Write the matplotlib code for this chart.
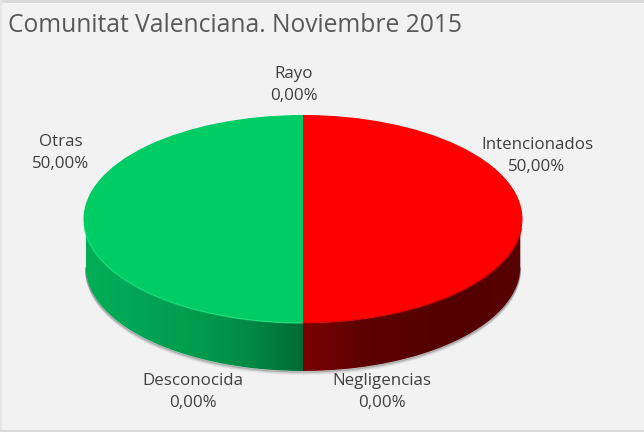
import numpy as np
import matplotlib
matplotlib.use('Agg')
import matplotlib.pyplot as plt
from matplotlib.patches import Rectangle, PathPatch
from matplotlib.path import Path
from matplotlib.colors import LinearSegmentedColormap

plt.rcParams['font.family'] = ['Open Sans', 'DejaVu Sans']

title = 'Comunitat Valenciana. Noviembre 2015'
categories = ['Intencionados', 'Negligencias', 'Desconocida', 'Otras', 'Rayo']
values = [50.0, 0.0, 0.0, 50.0, 0.0]
top_colors = ['#ff0000', '#c00000', '#7f7f7f', '#00cc66', '#ffc000']
# wall colours, from the middle of the pie outwards
wall_stops = {
    'Intencionados': ['#7c0000', '#5e0000', '#570000', '#540000', '#580000'],
    'Otras': ['#006a36', '#008a45', '#009c4e', '#00a553', '#00ae58'],
}
# label centres in pixels, from top left
label_pos = [(537, 156), (382, 392), (193, 392), (61, 153), (294, 85)]

W, H = 644, 432
fig = plt.figure(figsize=(W / 100, H / 100), dpi=100, facecolor='#f2f2f2')

# window edges of the screenshot
fig.add_artist(Rectangle((0, 1 - 3 / H), 1, 3 / H, transform=fig.transFigure, color='#d9d9d9', lw=0))
fig.add_artist(Rectangle((0, 0), 2 / W, 1, transform=fig.transFigure, color='#e6e6e6', lw=0))
fig.add_artist(Rectangle((0, 0), 1, 2 / H, transform=fig.transFigure, color='#d9d9d9', lw=0))

# pie axes: ellipse on top, wall hangs below it
cx, cy, rx, ry, depth = 303, 219, 219.5, 104, 48
d = depth / ry
ax = fig.add_axes([(cx - rx) / W, (H - cy - ry - depth - 4) / H, 2 * rx / W, (2 * ry + depth + 4) / H])
wedges, _ = ax.pie(values, colors=top_colors, startangle=90, counterclock=False, radius=1,
                   wedgeprops={'linewidth': 0})
for w in wedges:
    w.set_zorder(3)

# slice ends, clockwise from 12 o'clock
shares = np.array(values) / sum(values)
ends = np.cumsum(shares)
starts = ends - shares
side = 0.99

# soft shadow under the wall
t = np.linspace(0.5, 1.5, 300) * np.pi
for off, al in [(0.03, 0.10), (0.018, 0.2), (0.008, 0.35)]:
    ax.plot(side * np.sin(t), np.cos(t) - d - off, color='#404040', alpha=al, lw=1, zorder=1.5)

for name, a, b, sh in zip(categories, starts, ends, shares):
    if sh == 0:
        continue
    t = np.linspace(a, b, 300) * 2 * np.pi
    x, y = side * np.sin(t), np.cos(t)
    keep = y <= 1e-9
    x, y = x[keep], y[keep]
    verts = np.r_[np.c_[x, y], np.c_[x[::-1], y[::-1] - d], [[x[0], y[0]]]]
    cmap = LinearSegmentedColormap.from_list(name, wall_stops[name])
    grad = np.linspace(0, 1, 256).reshape(1, -1)
    outer = verts[np.argmax(np.abs(verts[:, 0])), 0]
    im = ax.imshow(grad, cmap=cmap, extent=(0, outer, -1 - d, 0), aspect='auto', zorder=2)
    patch = PathPatch(Path(verts), transform=ax.transData, fc='none', lw=0)
    ax.add_patch(patch)
    im.set_clip_path(patch)

# rim highlights on the front edge
t = np.linspace(1.0, 1.47, 200) * np.pi
ax.plot(np.sin(t), np.cos(t), color='#1fe880', lw=1.0, alpha=0.7, zorder=3.1)
t = np.linspace(0.53, 1.0, 200) * np.pi
ax.plot(np.sin(t), np.cos(t), color='#c00000', lw=1.0, alpha=0.7, zorder=3.1)

ax.set_aspect('auto')
ax.set_xlim(-1, 1)
ax.set_ylim(-1 - d - 4 / ry, 1)
ax.patch.set_visible(False)
ax.set_axis_off()

fig.text(8 / W, 1 - 26 / H, title, color='#595959', fontsize=17.7, va='center', ha='left')

for name, v, (px, py) in zip(categories, values, label_pos):
    lab = f'{v:.2f}%'.replace('.', ',')
    fig.text(px / W, 1 - py / H, f'{name}\n{lab}', color='#404040', fontsize=12.2,
             ha='center', va='center', linespacing=1.45)

fig.savefig('out.png', dpi=100, facecolor=fig.get_facecolor())
